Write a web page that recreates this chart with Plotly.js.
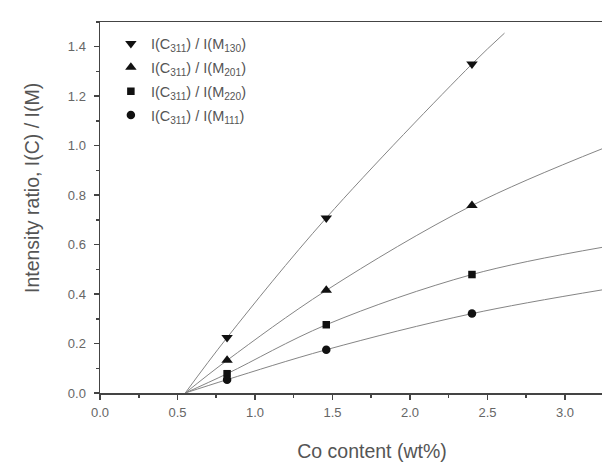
<!DOCTYPE html>
<html>
<head>
<meta charset="utf-8">
<script src="https://cdn.plot.ly/plotly-3.0.1.min.js"></script>
<style>
html, body { margin: 0; padding: 0; overflow: hidden; background: #fff; }
#chart { width: 644px; height: 462px; }
</style>
</head>
<body>
<div id="chart"></div>
<script>
// Measured data (Co content wt%, intensity ratio)
const coContent = [0.82, 1.46, 2.40];
const ratioM130 = [0.224, 0.708, 1.33];
const ratioM201 = [0.132, 0.415, 0.758];
const ratioM220 = [0.078, 0.276, 0.479];
const ratioM111 = [0.054, 0.175, 0.321];

// Fitted curves
const fitX130 = [0.55, 0.82, 1.46, 2.40, 2.61];
const fitY130 = [0.0, 0.224, 0.708, 1.33, 1.455];
const fitXOther = [0.55, 0.82, 1.46, 2.40, 3.25];
const fitY201 = [0.0, 0.132, 0.415, 0.758, 0.99];
const fitY220 = [0.0, 0.078, 0.276, 0.479, 0.59];
const fitY111 = [0.0, 0.054, 0.175, 0.321, 0.418];

const seriesNames = [
  'I(C<sub>311</sub>) / I(M<sub>130</sub>)',
  'I(C<sub>311</sub>) / I(M<sub>201</sub>)',
  'I(C<sub>311</sub>) / I(M<sub>220</sub>)',
  'I(C<sub>311</sub>) / I(M<sub>111</sub>)'
];
const xTitle = 'Co content (wt%)';
const yTitle = 'Intensity ratio, I(C) / I(M)';

const FONT = 'Liberation Sans, Arial, sans-serif';
const lineStyle = {color: '#858585', width: 1, shape: 'spline', smoothing: 1};
const mk = (sym, size) => ({symbol: sym, size: size, color: '#111'});

const fits = [
  [fitX130, fitY130], [fitXOther, fitY201], [fitXOther, fitY220], [fitXOther, fitY111]
];
const vals = [ratioM130, ratioM201, ratioM220, ratioM111];
const markers = [mk('triangle-down', 10), mk('triangle-up', 10), mk('square', 7.5), mk('circle', 8.5)];

const traces = [];
fits.forEach((f) => {
  traces.push({x: f[0], y: f[1], mode: 'lines', line: lineStyle, showlegend: false, hoverinfo: 'skip'});
});
vals.forEach((v, i) => {
  traces.push({x: coContent, y: v, mode: 'markers', marker: markers[i], name: seriesNames[i], legendgroup: 'g' + i});
});

const axisCommon = {
  showline: true, linecolor: '#444', linewidth: 1.5,
  ticks: 'outside', ticklen: 5, tickwidth: 1.5, tickcolor: '#444',
  showgrid: false, zeroline: false,
  tickfont: {family: FONT, size: 13, color: '#666'}
};

const layout = {
  width: 644, height: 462,
  margin: {l: 100, r: 0, t: 22, b: 69},
  paper_bgcolor: '#fff', plot_bgcolor: '#fff',
  font: {family: FONT, color: '#555'},
  xaxis: Object.assign({}, axisCommon, {
    range: [0, 3.51], dtick: 0.5, tick0: 0, tickformat: '.1f', mirror: true,
    ticklabelstandoff: 2,
    minor: {dtick: 0.25, ticks: 'outside', ticklen: 3, tickwidth: 1.5, tickcolor: '#444'},
    title: {text: xTitle, font: {size: 19.5, color: '#555'}, standoff: 29}
  }),
  yaxis: Object.assign({}, axisCommon, {
    range: [0, 1.5], dtick: 0.2, tick0: 0, tickformat: '.1f',
    ticklabelstandoff: 5,
    minor: {dtick: 0.1, ticks: 'outside', ticklen: 3, tickwidth: 1.5, tickcolor: '#444'}
  }),
  annotations: [{
    text: yTitle, textangle: -90, xref: 'paper', yref: 'paper',
    x: -68 / 544, y: (393 - 188) / 371, xanchor: 'center', yanchor: 'middle',
    showarrow: false, font: {family: FONT, size: 19.5, color: '#555'}
  }],
  showlegend: true,
  legend: {
    x: 0.02, y: 0.985, xanchor: 'left', yanchor: 'top',
    bgcolor: 'rgba(0,0,0,0)', borderwidth: 0,
    traceorder: 'grouped', tracegroupgap: 2,
    font: {family: FONT, size: 14.5, color: '#555'}
  }
};

Plotly.newPlot('chart', traces, layout, {staticPlot: true, displayModeBar: false});
</script>
</body>
</html>
